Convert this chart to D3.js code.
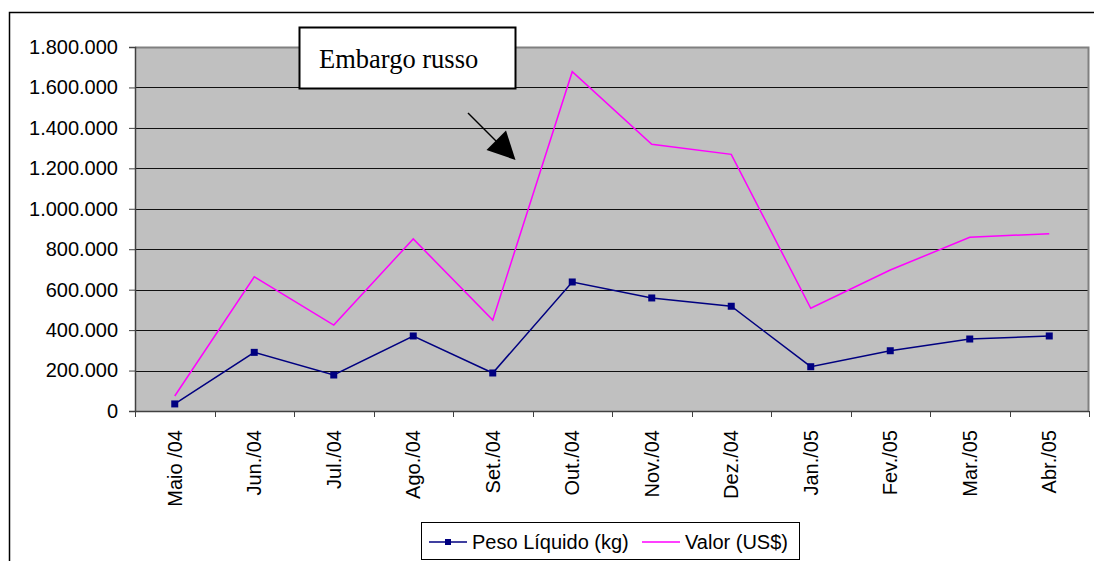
<!DOCTYPE html>
<html>
<head>
<meta charset="utf-8">
<script src="https://cdn.jsdelivr.net/npm/d3@7"></script>
<style>
  body { margin: 0; background: #fff; }
  svg { display: block; }
  text { font-family: "Liberation Sans", Arial, sans-serif; fill: #000; }
</style>
</head>
<body>
<svg id="chart" width="1094" height="561"></svg>
<script>
// months on the x axis
const months = ["Maio /04", "Jun./04", "Jul./04", "Ago./04", "Set./04", "Out./04",
                "Nov./04", "Dez./04", "Jan./05", "Fev./05", "Mar./05", "Abr./05"];

// series
const pesoLiquido = [35000, 290000, 178000, 371000, 188000, 638000,
                     559000, 518000, 219000, 298000, 356000, 371000];
const valorUSD = [74000, 664000, 425000, 851000, 450000, 1678000,
                  1319000, 1269000, 508000, 697000, 859000, 877000];

const yTicks = [0, 200000, 400000, 600000, 800000, 1000000, 1200000, 1400000, 1600000, 1800000];

const annotation = "Embargo russo";

const svg = d3.select("#chart");

// outer frame of the chart object (right/bottom run off the page)
svg.append("path")
  .attr("d", "M9.5,561 V12.5 H1094")
  .attr("fill", "none")
  .attr("stroke", "#000")
  .attr("stroke-width", 1.5);

const plot = {left: 135, right: 1089, top: 47, bottom: 411};

const x = d3.scaleBand()
  .domain(months)
  .range([plot.left, plot.right]);

const y = d3.scaleLinear()
  .domain([0, 1800000])
  .range([plot.bottom, plot.top]);

// background
svg.append("rect")
  .attr("x", plot.left)
  .attr("y", plot.top)
  .attr("width", plot.right - plot.left)
  .attr("height", plot.bottom - plot.top)
  .attr("fill", "#c0c0c0");

// gridlines
svg.append("g")
  .selectAll("line")
  .data(yTicks.slice(1, -1))
  .enter().append("line")
  .attr("x1", plot.left)
  .attr("x2", plot.right)
  .attr("y1", d => Math.round(y(d)) + 0.5)
  .attr("y2", d => Math.round(y(d)) + 0.5)
  .attr("stroke", "#111")
  .attr("stroke-width", 1);

// plot border top/right
svg.append("path")
  .attr("d", `M${plot.left},${plot.top + 0.5} H${plot.right - 0.5} V${plot.bottom}`)
  .attr("fill", "none")
  .attr("stroke", "#808080")
  .attr("stroke-width", 2);

const fmt = d => d === 0 ? "0" : d3.format(",")(d).replace(/,/g, ".");

// y axis
const yAxis = svg.append("g")
  .attr("transform", `translate(${plot.left},0)`)
  .call(d3.axisLeft(y).tickValues(yTicks).tickSize(6).tickPadding(11).tickFormat(fmt));
yAxis.select(".domain").attr("stroke", "#404040").attr("stroke-width", 1.5);
yAxis.selectAll(".tick line").attr("stroke", "#404040");
yAxis.selectAll("text")
  .style("font-size", "20px")
  .style("font-family", "'Liberation Sans', Arial, sans-serif")
  .attr("fill", "#000");

// x axis with ticks at category boundaries
const xAxis = svg.append("g")
  .attr("transform", `translate(0,${plot.bottom})`);
xAxis.append("line")
  .attr("x1", plot.left).attr("x2", plot.right)
  .attr("y1", 0.5).attr("y2", 0.5)
  .attr("stroke", "#404040").attr("stroke-width", 1.5);
xAxis.selectAll(".tk")
  .data(months.concat(["end"]))
  .enter().append("line")
  .attr("class", "tk")
  .attr("x1", (d, i) => Math.round(plot.left + i * x.step()) + 0.5)
  .attr("x2", (d, i) => Math.round(plot.left + i * x.step()) + 0.5)
  .attr("y1", 0).attr("y2", 6)
  .attr("stroke", "#404040");
xAxis.selectAll(".lbl")
  .data(months)
  .enter().append("text")
  .attr("class", "lbl")
  .attr("transform", d => `translate(${x(d) + x.bandwidth() / 2},19) rotate(-90)`)
  .attr("dy", "0.36em")
  .attr("text-anchor", "end")
  .style("font-size", "20px")
  .text(d => d);

const cx = d => x(d) + x.bandwidth() / 2;

// series lines
const line = d3.line()
  .x((d, i) => cx(months[i]))
  .y(d => y(d));

svg.append("path")
  .datum(valorUSD)
  .attr("d", line)
  .attr("fill", "none")
  .attr("stroke", "#ff00ff")
  .attr("stroke-width", 1.5);

svg.append("path")
  .datum(pesoLiquido)
  .attr("d", line)
  .attr("fill", "none")
  .attr("stroke", "#000080")
  .attr("stroke-width", 1.5);

svg.append("g")
  .selectAll("rect")
  .data(pesoLiquido)
  .enter().append("rect")
  .attr("x", (d, i) => cx(months[i]) - 3.5)
  .attr("y", d => y(d) - 3.5)
  .attr("width", 7)
  .attr("height", 7)
  .attr("fill", "#000080");

// annotation box + arrow
svg.append("rect")
  .attr("x", 299.5).attr("y", 27.5)
  .attr("width", 216).attr("height", 61)
  .attr("fill", "#fff")
  .attr("stroke", "#000")
  .attr("stroke-width", 2);
svg.append("text")
  .attr("x", 319).attr("y", 68)
  .style("font-family", "'Liberation Serif', 'Times New Roman', serif")
  .style("font-size", "26.5px")
  .text(annotation);

svg.append("line")
  .attr("x1", 468).attr("y1", 113)
  .attr("x2", 497).attr("y2", 142)
  .attr("stroke", "#000").attr("stroke-width", 1.5);
svg.append("path")
  .attr("d", "M515.5,160 L486.5,150 L506,130.5 Z")
  .attr("fill", "#000");

// legend
const legend = svg.append("g");
legend.append("rect")
  .attr("x", 421.5).attr("y", 522.5)
  .attr("width", 378).attr("height", 37)
  .attr("fill", "#fff")
  .attr("stroke", "#000")
  .attr("stroke-width", 1);

const legendItems = [
  {name: "Peso Líquido (kg)", color: "#000080", marker: true, x: 429},
  {name: "Valor (US$)", color: "#ff00ff", marker: false, x: 642}
];
legendItems.forEach(it => {
  legend.append("line")
    .attr("x1", it.x).attr("x2", it.x + 38)
    .attr("y1", 542).attr("y2", 542)
    .attr("stroke", it.color).attr("stroke-width", 1.5);
  if (it.marker) {
    legend.append("rect")
      .attr("x", it.x + 16).attr("y", 539)
      .attr("width", 6).attr("height", 6)
      .attr("fill", it.color);
  }
  legend.append("text")
    .attr("x", it.x + 43).attr("y", 549)
    .style("font-size", "20px")
    .text(it.name);
});
</script>
</body>
</html>
